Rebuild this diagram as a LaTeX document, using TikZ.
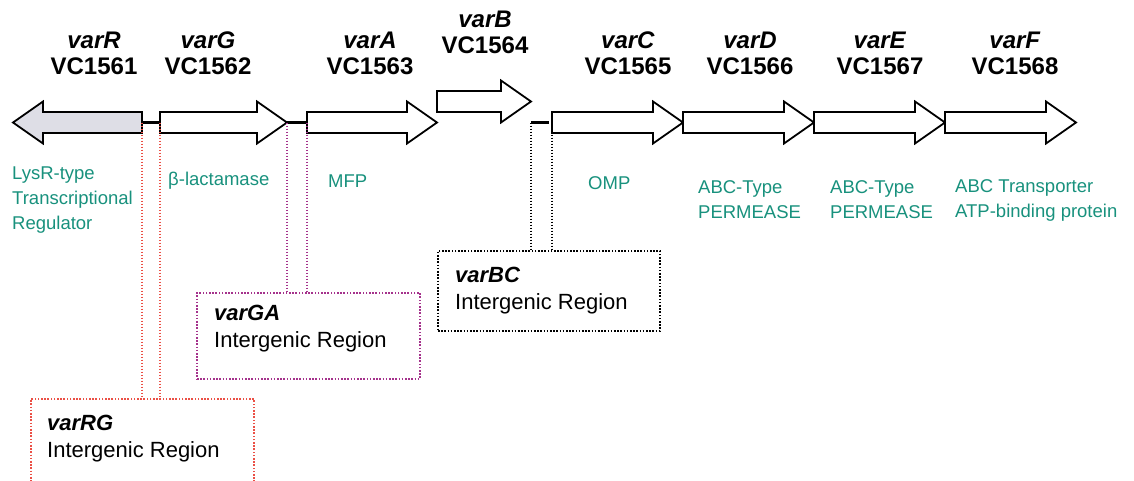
\documentclass[tikz,border=0pt]{standalone}
\usepackage{fontspec}
\setmainfont{Liberation Sans}
\usepackage{tikz}
\usetikzlibrary{positioning}

\definecolor{prodgreen}{RGB}{24,145,125}
\definecolor{rgred}{RGB}{235,80,70}
\definecolor{gapurple}{RGB}{165,50,140}
\definecolor{genegray}{RGB}{222,222,230}

% gene arrow: [style]{name}{tail x}{tip x}{y}
\newcommand{\genearrow}[5][]{%
    \pgfmathsetmacro{\headx}{#4-30*sign(#4-#3)}%
    \draw[genebody,#1] (#3,#5-10.5) -- (\headx,#5-10.5) -- (\headx,#5-21) -- (#4,#5)
        -- (\headx,#5+21) -- (\headx,#5+10.5) -- (#3,#5+10.5) -- cycle;
    \coordinate (#2 tail) at (#3,#5);
    \coordinate (#2 tip) at (#4,#5);
}

\begin{document}
\begin{tikzpicture}[x=1pt, y=-1pt]
        \tikzstyle{genebody}=[draw, line width=1.8pt, fill=white, line join=miter]
        \tikzstyle{genename}=[inner sep=0pt, align=center, font=\fontsize{24}{26}\selectfont\bfseries]
        \tikzstyle{product}=[inner sep=0pt, anchor=west, align=left, text=prodgreen, font=\fontsize{18.5}{25}\selectfont]
        \tikzstyle{spacer}=[line width=3.5pt]
        \tikzstyle{regionbox}=[line width=1.8pt, dash pattern=on 1.6pt off 1.6pt, anchor=north west, inner sep=0pt]
        \tikzstyle{regiontext}=[inner sep=0pt, align=left, font=\fontsize{22}{27}\selectfont]
        \tikzstyle{regionline}=[line width=1.5pt, dash pattern=on 1.5pt off 1.5pt]

        \useasboundingbox (0,0) rectangle (1134,480);

        % genes
        \genearrow[fill=genegray]{R}{142}{13}{122.5}
        \genearrow{G}{160}{287}{122.5}
        \genearrow{A}{307}{437}{122.5}
        \genearrow{B}{437}{531}{101.5}
        \genearrow{C}{552}{683}{122.5}
        \genearrow{D}{683}{814}{122.5}
        \genearrow{E}{814}{945}{122.5}
        \genearrow{F}{945}{1076}{122.5}

        \coordinate (BC start) at (B tip |- C tail);

        \draw[spacer] (R tail) -- (G tail);
        \draw[spacer] (G tip) -- (A tail);
        \draw[spacer] (BC start) -- ([xshift=-3pt]C tail);

        % gene names
        \node[genename] (name R) at (94,53) {\textit{varR}\\VC1561};
        \node[genename] (name G) at (208,53) {\textit{varG}\\VC1562};
        \node[genename] (name A) at (370,53) {\textit{varA}\\VC1563};
        \node[genename] (name B) at (485,32) {\textit{varB}\\VC1564};
        \node[genename] (name C) at (628,53) {\textit{varC}\\VC1565};
        \node[genename] (name D) at (750,53) {\textit{varD}\\VC1566};
        \node[genename] (name E) at (880,53) {\textit{varE}\\VC1567};
        \node[genename] (name F) at (1015,53) {\textit{varF}\\VC1568};

        % products
        \node[product] (prod R) at (12,200) {LysR-type\\Transcriptional\\Regulator};
        \node[product] (prod G) at (168,181) {β-lactamase};
        \node[product] (prod A) at (328,181) {MFP};
        \node[product] (prod C) at (588,183) {OMP};
        \node[product] (prod D) at (698,200) {ABC-Type\\PERMEASE};
        \node[product] (prod E) at (830,200) {ABC-Type\\PERMEASE};
        \node[product] (prod F) at (955,200) {ABC Transporter\\ATP-binding protein};

        % intergenic regions
        \node[regionbox, draw=rgred, minimum width=223pt, minimum height=100pt] (RG box) at (30,398) {};
        \node[regionbox, draw=gapurple, minimum width=223pt, minimum height=86pt] (GA box) at (196,292) {};
        \node[regionbox, draw=black, minimum width=222pt, minimum height=80pt] (BC box) at (437,250) {};

        \node[regiontext, below right=17pt and 17pt of RG box.north west] (RG text) {\textit{\bfseries varRG}\\Intergenic Region};
        \node[regiontext, below right=13pt and 18pt of GA box.north west] (GA text) {\textit{\bfseries varGA}\\Intergenic Region};
        \node[regiontext, below right=17pt and 18pt of BC box.north west] (BC text) {\textit{\bfseries varBC}\\Intergenic Region};

        \draw[regionline, rgred] (R tail) -- (R tail |- RG box.north);
        \draw[regionline, rgred] (G tail) -- (G tail |- RG box.north);
        \draw[regionline, gapurple] (G tip) -- (G tip |- GA box.north);
        \draw[regionline, gapurple] (A tail) -- (A tail |- GA box.north);
        \draw[regionline] (BC start) -- (BC start |- BC box.north);
        \draw[regionline] (C tail) -- (C tail |- BC box.north);
\end{tikzpicture}
\end{document}
